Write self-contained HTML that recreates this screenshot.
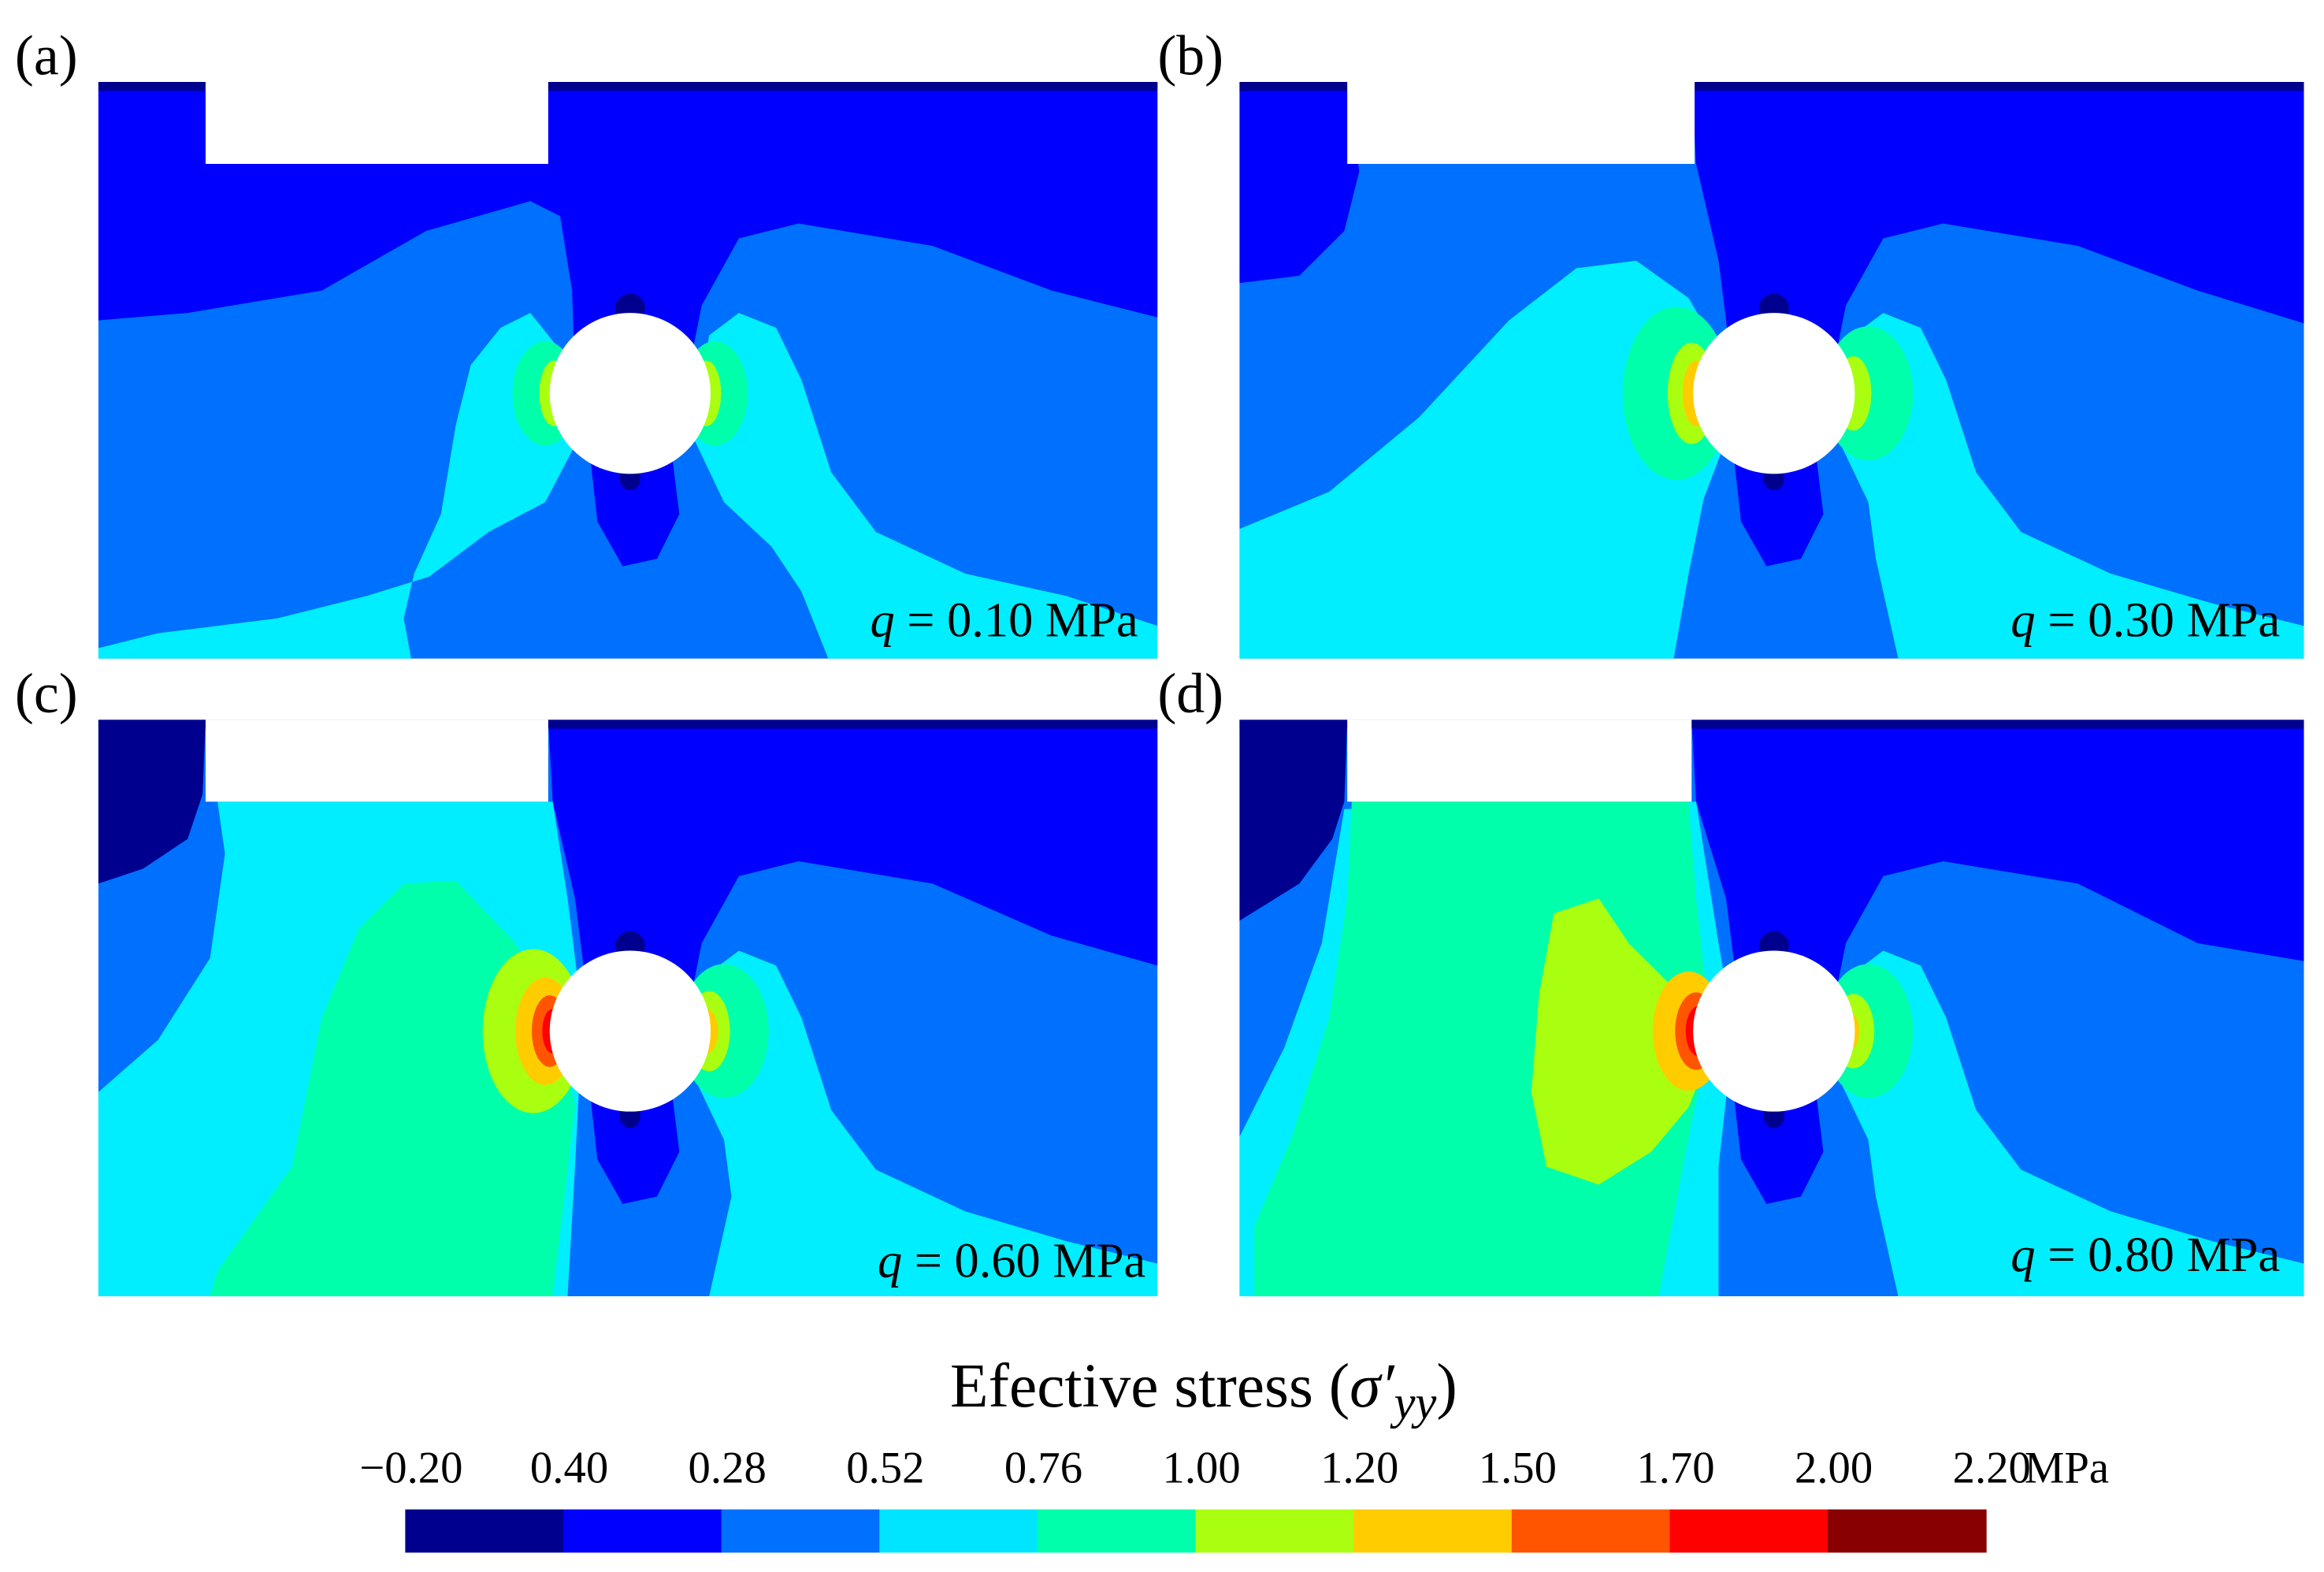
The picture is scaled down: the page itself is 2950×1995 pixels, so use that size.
<!DOCTYPE html>
<html><head><meta charset="utf-8"><style>
html,body{margin:0;padding:0;background:#fff}
svg{display:block}
text{font-family:"Liberation Serif","DejaVu Serif",serif;fill:#000}
</style></head><body>
<svg id="fig" width="2950" height="1995" viewBox="0 0 1560 1055" preserveAspectRatio="none" xmlns="http://www.w3.org/2000/svg">
<defs>
<clipPath id="pc"><rect x="0" y="0" width="711" height="387"/></clipPath>
</defs>

<!-- Panel A -->
<g transform="translate(66,55)">
<g clip-path="url(#pc)">
<rect width="711" height="387" fill="#0070ff"/>
<polygon fill="#0000ff" points="0,0 711,0 711,158 640,140 560,110 470,95 430,105 405,150 395,200 320,200 318,140 310,90 290,80 220,100 150,140 60,155 0,160"/>
<rect width="711" height="6" fill="#00008f"/>
<polygon fill="#00eeff" points="270,165 290,155 310,180 322,240 300,282 262,302 222,332 180,345 120,360 40,370 0,380 0,387 210,387 205,360 212,330 230,290 240,230 250,190"/>
<polygon fill="#00eeff" points="400,240 410,170 430,155 455,165 472,200 492,262 522,302 582,330 650,345 711,365 711,387 490,387 472,342 452,312 420,282"/>
<polygon fill="#0000ff" points="330,250 385,250 390,290 375,320 352,325 335,295"/>
<ellipse cx="300" cy="209" rx="22" ry="35" fill="#00ffaa"/>
<ellipse cx="306" cy="209" rx="10" ry="22" fill="#aaff10"/>
<ellipse cx="414" cy="209" rx="22" ry="35" fill="#00ffaa"/>
<ellipse cx="408" cy="209" rx="10" ry="22" fill="#aaff10"/>
<ellipse cx="357" cy="152" rx="10" ry="10" fill="#00008f"/>
<ellipse cx="357" cy="266" rx="7" ry="8" fill="#00008f"/>
<circle cx="357" cy="209" r="54" fill="#fff"/>
<rect x="72" y="0" width="230" height="55" fill="#fff"/>
</g>
<text x="698" y="372" font-size="33" text-anchor="end"><tspan font-style="italic">q</tspan> = 0.10 MPa</text>
</g>
<text x="10" y="50" font-size="38">(a)</text>

<!-- Panel B -->
<g transform="translate(832,55) scale(1.005,1)">
<g clip-path="url(#pc)">
<rect width="711" height="387" fill="#0070ff"/>
<polygon fill="#0000ff" points="0,0 72,0 80,60 70,100 40,130 0,135"/>
<polygon fill="#0000ff" points="302,0 711,0 711,162 640,140 560,110 470,95 430,105 405,150 395,200 330,200 320,120 305,55"/>
<rect width="711" height="6" fill="#00008f"/>
<polygon fill="#00eeff" points="0,300 60,275 120,225 180,160 225,125 265,120 300,145 320,180 325,240 310,280 300,330 290,387 0,387"/>
<polygon fill="#00eeff" points="400,240 410,170 430,155 455,165 472,200 492,262 522,302 582,330 650,350 711,365 711,387 440,387 425,320 420,282"/>
<polygon fill="#0000ff" points="330,250 385,250 390,290 375,320 352,325 335,295"/>
<ellipse cx="292" cy="209" rx="36" ry="58" fill="#00ffaa"/>
<ellipse cx="302" cy="209" rx="16" ry="34" fill="#aaff10"/>
<ellipse cx="305" cy="209" rx="9" ry="22" fill="#ffcc00"/>
<ellipse cx="420" cy="209" rx="30" ry="45" fill="#00ffaa"/>
<ellipse cx="410" cy="209" rx="12" ry="25" fill="#aaff10"/>
<ellipse cx="357" cy="152" rx="10" ry="10" fill="#00008f"/>
<ellipse cx="357" cy="266" rx="7" ry="8" fill="#00008f"/>
<circle cx="357" cy="209" r="54" fill="#fff"/>
<rect x="72" y="0" width="232" height="55" fill="#fff"/>
</g>
<text x="695" y="372" font-size="33" text-anchor="end"><tspan font-style="italic">q</tspan> = 0.30 MPa</text>
</g>
<text x="777" y="50" font-size="38">(b)</text>

<!-- Panel C -->
<g transform="translate(66,483)">
<g clip-path="url(#pc)">
<rect width="711" height="387" fill="#0070ff"/>
<polygon fill="#00008f" points="0,0 72,0 70,50 60,80 30,100 0,110"/>
<polygon fill="#0000ff" points="302,0 711,0 711,165 640,145 560,110 470,95 430,105 405,150 395,200 330,200 320,120 305,55"/>
<rect width="711" height="6" fill="#00008f"/>
<polygon fill="#00eeff" points="0,250 40,215 75,160 85,90 80,55 305,55 315,120 325,200 320,300 315,387 0,387"/>
<polygon fill="#00ffaa" points="75,387 80,370 130,300 150,200 175,140 205,110 240,108 280,150 310,209 320,260 305,387"/>
<polygon fill="#00eeff" points="400,240 410,170 430,155 455,165 472,200 492,262 522,302 582,330 650,350 711,365 711,387 410,387 425,320 420,282"/>
<polygon fill="#0000ff" points="330,250 385,250 390,290 375,320 352,325 335,295"/>
<ellipse cx="292" cy="209" rx="34" ry="55" fill="#aaff10"/>
<ellipse cx="300" cy="209" rx="20" ry="36" fill="#ffcc00"/>
<ellipse cx="303" cy="209" rx="12" ry="24" fill="#ff5500"/>
<ellipse cx="305" cy="209" rx="7" ry="15" fill="#ff0000"/>
<ellipse cx="420" cy="209" rx="30" ry="45" fill="#00ffaa"/>
<ellipse cx="410" cy="209" rx="14" ry="27" fill="#aaff10"/>
<ellipse cx="408" cy="209" rx="8" ry="15" fill="#ffcc00"/>
<ellipse cx="357" cy="152" rx="10" ry="10" fill="#00008f"/>
<ellipse cx="357" cy="266" rx="7" ry="8" fill="#00008f"/>
<circle cx="357" cy="209" r="54" fill="#fff"/>
<rect x="72" y="0" width="230" height="55" fill="#fff"/>
</g>
<text x="703" y="374" font-size="33" text-anchor="end"><tspan font-style="italic">q</tspan> = 0.60 MPa</text>
</g>
<text x="10" y="478" font-size="38">(c)</text>

<!-- Panel D -->
<g transform="translate(832,483) scale(1.005,1)">
<g clip-path="url(#pc)">
<rect width="711" height="387" fill="#0070ff"/>
<polygon fill="#00008f" points="0,0 72,0 70,55 62,80 40,110 0,135"/>
<polygon fill="#0000ff" points="302,0 711,0 711,162 640,150 560,110 470,95 430,105 405,150 395,200 335,200 325,120 305,55"/>
<rect width="711" height="6" fill="#00008f"/>
<polygon fill="#00eeff" points="0,280 30,220 55,150 70,60 305,55 320,150 330,209 320,300 320,387 0,387"/>
<polygon fill="#00ffaa" points="10,387 10,340 35,280 60,200 72,120 75,55 300,55 305,120 315,209 300,280 280,387"/>
<polygon fill="#aaff10" points="200,185 210,130 240,120 260,150 290,180 320,209 300,260 275,290 240,312 205,300 195,250"/>
<ellipse cx="300" cy="209" rx="24" ry="40" fill="#ffcc00"/>
<ellipse cx="305" cy="209" rx="14" ry="26" fill="#ff5500"/>
<ellipse cx="307" cy="209" rx="9" ry="17" fill="#ff0000"/>
<ellipse cx="308" cy="209" rx="4" ry="9" fill="#880000"/>
<polygon fill="#00eeff" points="400,240 410,170 430,155 455,165 472,200 492,262 522,302 582,330 650,350 711,365 711,387 440,387 425,320 420,282"/>
<polygon fill="#0000ff" points="330,250 385,250 390,290 375,320 352,325 335,295"/>
<ellipse cx="420" cy="209" rx="30" ry="45" fill="#00ffaa"/>
<ellipse cx="410" cy="209" rx="14" ry="25" fill="#aaff10"/>
<ellipse cx="407" cy="209" rx="7" ry="13" fill="#ffcc00"/>
<ellipse cx="357" cy="152" rx="10" ry="10" fill="#00008f"/>
<ellipse cx="357" cy="266" rx="7" ry="8" fill="#00008f"/>
<circle cx="357" cy="209" r="54" fill="#fff"/>
<rect x="72" y="0" width="230" height="55" fill="#fff"/>
</g>
<text x="695" y="370" font-size="33" text-anchor="end"><tspan font-style="italic">q</tspan> = 0.80 MPa</text>
</g>
<text x="777" y="478" font-size="38">(d)</text>

<text x="808" y="944" font-size="42" text-anchor="middle">Efective stress (<tspan font-style="italic">σ′</tspan><tspan font-style="italic" font-size="32" dy="8">yy</tspan><tspan dy="-8">)</tspan></text>
<g id="colorbar"></g>
</svg>
<script>
const cbColors = ["#00008f","#0000ff","#0070ff","#00e5ff","#00ffaa","#aaff10","#ffcc00","#ff5500","#ff0000","#880000"];
const cbTicks = ["\u22120.20","0.40","0.28","0.52","0.76","1.00","1.20","1.50","1.70","2.00","2.20"];
(function(){
  const NS="http://www.w3.org/2000/svg";
  const g=document.getElementById('colorbar');
  const x0=272,x1=1333,y=1013,h=29;
  const n=cbColors.length, w=(x1-x0)/n;
  const xs=i=>x0+i*w;
  cbColors.forEach((c,i)=>{
    const r=document.createElementNS(NS,'rect');
    r.setAttribute('x',xs(i));r.setAttribute('y',y);
    r.setAttribute('width',w+0.5);r.setAttribute('height',h);r.setAttribute('fill',c);
    
    
    g.appendChild(r);
  });
  cbTicks.forEach((t,i)=>{
    const tx=document.createElementNS(NS,'text');
    tx.setAttribute('x',xs(i)+4);tx.setAttribute('y',995);
    tx.setAttribute('font-size','30');tx.setAttribute('text-anchor','middle');
    tx.textContent=t;
    
    
    g.appendChild(tx);
  });
  const u=document.createElementNS(NS,'text');
  u.setAttribute('x',xs(n)+26);u.setAttribute('y',995);u.setAttribute('font-size','30');
  u.textContent='MPa';
  
  
  g.appendChild(u);
})();
</script>
</body></html>
